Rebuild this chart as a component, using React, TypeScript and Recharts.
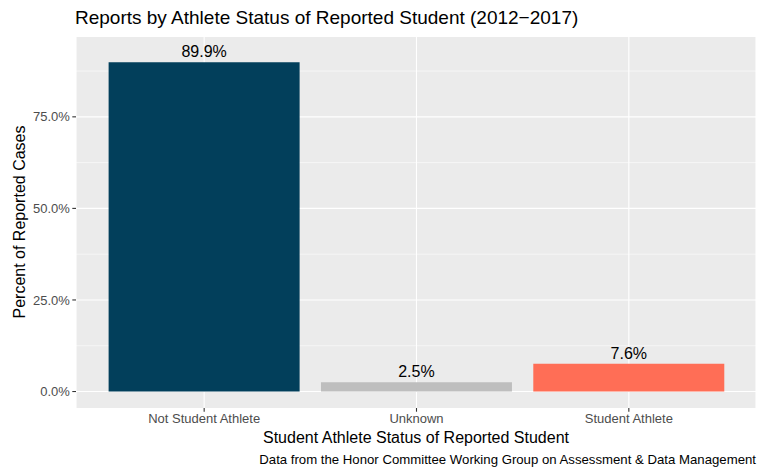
import { Bar, BarChart, CartesianGrid, Cell, LabelList, XAxis, YAxis } from "recharts"

const categories = ["Not Student Athlete", "Unknown", "Student Athlete"]
const percents = [89.9, 2.5, 7.6]
const colors = ["#023f5b", "#bebebe", "#ff6e56"]
const yTicks = [0, 25, 50, 75]
const yMinor = [12.5, 37.5, 62.5, 87.5]

const data = categories.map((name, i) => ({ name, value: percents[i] }))

const font = "'Liberation Sans', Arial, Helvetica, sans-serif"

export default function App() {
  return (
    <div style={{ position: "absolute", left: 0, top: 0, width: 763, height: 469, background: "#fff", fontFamily: font }}>
      <BarChart width={763} height={469} data={data} margin={{ top: 37, right: 7, bottom: 0, left: 0 }} barCategoryGap="5%">
        <CartesianGrid fill="#ebebeb" stroke="#ffffff" strokeWidth={0.55} vertical={false} horizontalValues={yMinor} />
        <CartesianGrid fill="none" stroke="#ffffff" strokeWidth={1.1} horizontalValues={yTicks} />
        <XAxis
          dataKey="name"
          height={61}
          padding={{ left: 22, right: 21 }}
          axisLine={false}
          tickLine={{ stroke: "#333333", strokeWidth: 1.1 }}
          tickSize={3.7}
          tickMargin={2}
          tick={{ fill: "#4d4d4d", fontSize: 13, fontFamily: font }}
          interval={0}
        />
        <YAxis
          width={76}
          type="number"
          domain={[-4.5, 96.8]}
          allowDataOverflow
          ticks={yTicks}
          tickFormatter={(v: number) => `${v.toFixed(1)}%`}
          axisLine={false}
          tickLine={{ stroke: "#333333", strokeWidth: 1.1 }}
          tickSize={3.7}
          tickMargin={2.5}
          tick={{ fill: "#4d4d4d", fontSize: 13, fontFamily: font }}
        />
        <Bar dataKey="value" isAnimationActive={false}>
          {data.map((d, i) => (
            <Cell key={d.name} fill={colors[i]} />
          ))}
          <LabelList
            dataKey="value"
            position="top"
            offset={5}
            formatter={(v: any) => `${Number(v).toFixed(1)}%`}
            style={{ fill: "#000", fontSize: 16, fontFamily: font }}
          />
        </Bar>
      </BarChart>
      <div style={{ position: "absolute", left: 75, top: 7, fontSize: 19, color: "#000", whiteSpace: "nowrap" }}>
        Reports by Athlete Status of Reported Student (2012−2017)
      </div>
      <div
        style={{
          position: "absolute",
          left: 20,
          top: 222,
          fontSize: 16,
          color: "#000",
          whiteSpace: "nowrap",
          transform: "translate(-50%, -50%) rotate(-90deg)",
        }}
      >
        Percent of Reported Cases
      </div>
      <div
        style={{
          position: "absolute",
          left: 416,
          top: 438,
          fontSize: 16,
          color: "#000",
          whiteSpace: "nowrap",
          transform: "translate(-50%, -50%)",
        }}
      >
        Student Athlete Status of Reported Student
      </div>
      <div style={{ position: "absolute", right: 7, top: 452, fontSize: 13.2, color: "#000", whiteSpace: "nowrap" }}>
        Data from the Honor Committee Working Group on Assessment &amp; Data Management
      </div>
    </div>
  )
}
